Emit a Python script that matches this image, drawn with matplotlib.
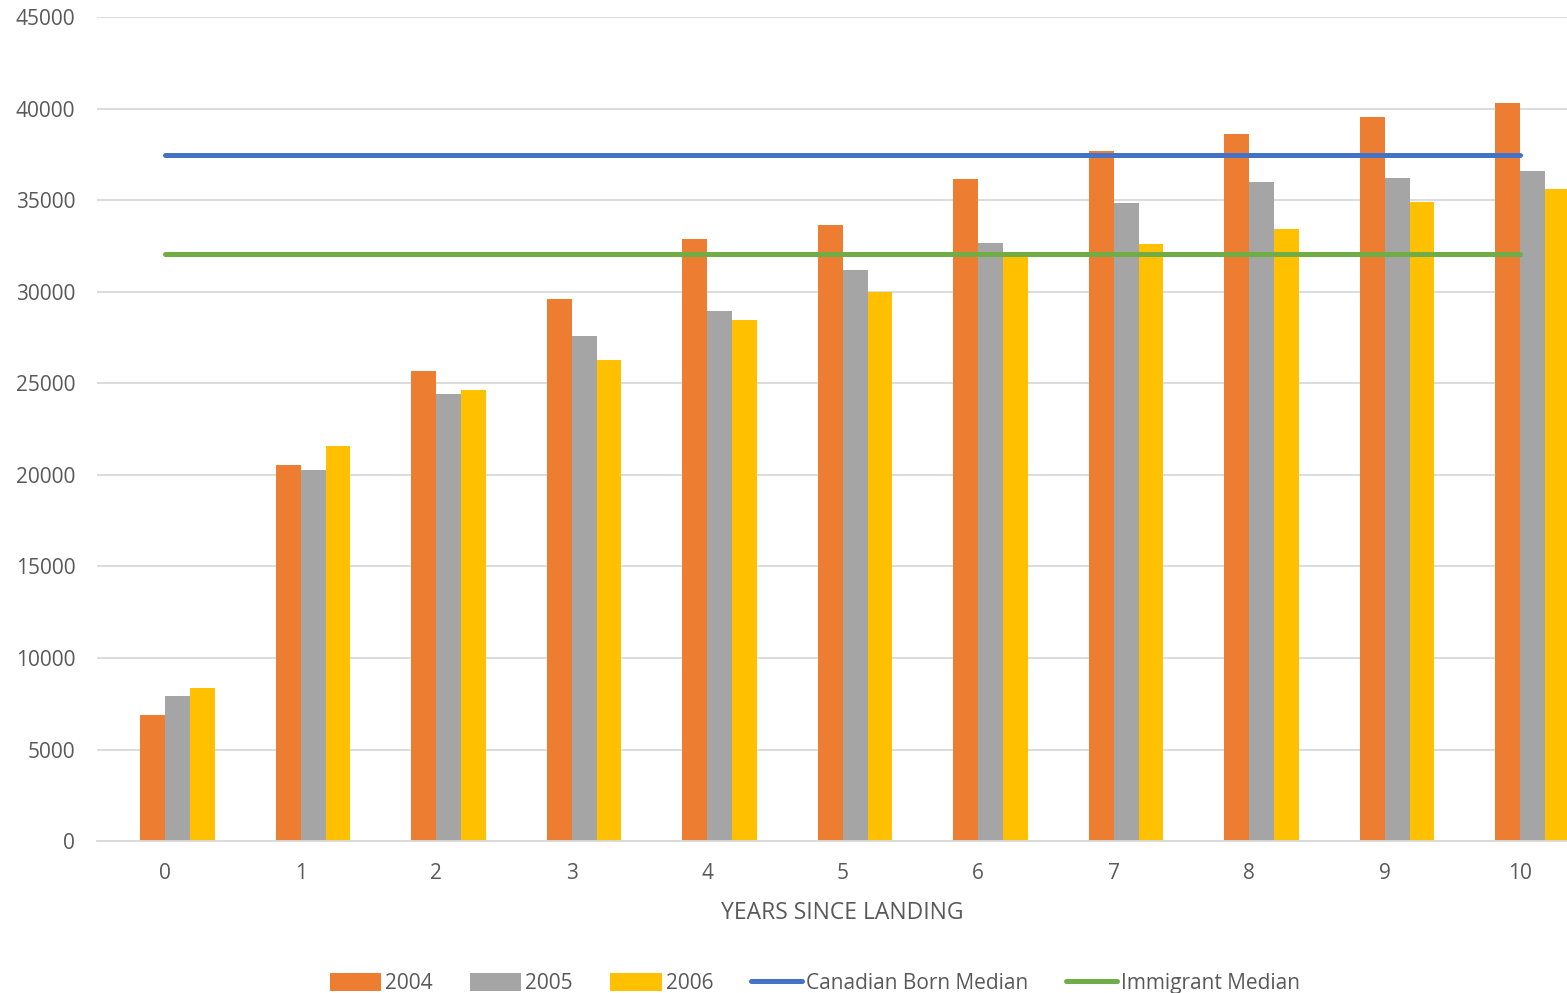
import numpy as np
import matplotlib.pyplot as plt

years = list(range(11))
inc_2004 = [6880, 20530, 25670, 29600, 32880, 33640, 36150, 37690, 38610, 39540, 40300]
inc_2005 = [7920, 20260, 24410, 27580, 28950, 31190, 32660, 34840, 35990, 36210, 36590]
inc_2006 = [8360, 21570, 24630, 26270, 28450, 29980, 31950, 32600, 33420, 34900, 35610]
canadian_median = 37470
immigrant_median = 32060

plt.rcParams['font.family'] = ['Open Sans', 'DejaVu Sans']
txt = '#595959'

fig = plt.figure(figsize=(15.67, 9.93), dpi=100)
ax = fig.add_axes([0.0622, 0.153, 0.9512, 0.8298])

x = np.array(years)
w = 0.183
b1 = ax.bar(x - 0.5 * w, inc_2004, w, color='#ED7D31', label='2004', zorder=2)
b2 = ax.bar(x + 0.5 * w, inc_2005, w, color='#A5A5A5', label='2005', zorder=2)
b3 = ax.bar(x + 1.5 * w, inc_2006, w, color='#FFC000', label='2006', zorder=2)
l1, = ax.plot([x[0], x[-1]], [canadian_median] * 2, color='#4472C4', lw=3.6,
              solid_capstyle='round', label='Canadian Born Median', zorder=3)
l2, = ax.plot([x[0], x[-1]], [immigrant_median] * 2, color='#70AD47', lw=3.6,
              solid_capstyle='round', label='Immigrant Median', zorder=3)

ax.set_xlim(-0.5, 10.5)
ax.set_ylim(0, 45000)
ax.set_yticks(range(0, 45001, 5000))
ax.set_xticks(x)
ax.grid(axis='y', color='#D9D9D9', lw=1.3, zorder=0)
for s in ['top', 'right', 'left']:
    ax.spines[s].set_visible(False)
ax.spines['bottom'].set_color('#D9D9D9')
ax.spines['bottom'].set_linewidth(1.3)
ax.tick_params(length=0, labelsize=15, colors=txt)
ax.tick_params(axis='y', pad=16)
ax.tick_params(axis='x', pad=16)
ax.set_xlabel('YEARS SINCE LANDING', fontsize=16.5, color=txt, labelpad=12)

fig.legend(handles=[b1, b2, b3, l1, l2], loc='lower center', bbox_to_anchor=(0.52, -0.02),
           ncol=5, frameon=False, fontsize=15, labelcolor=txt, handlelength=2.45,
           handleheight=0.9, columnspacing=1.8, handletextpad=0.2)

fig.savefig('out.png', dpi=100)
